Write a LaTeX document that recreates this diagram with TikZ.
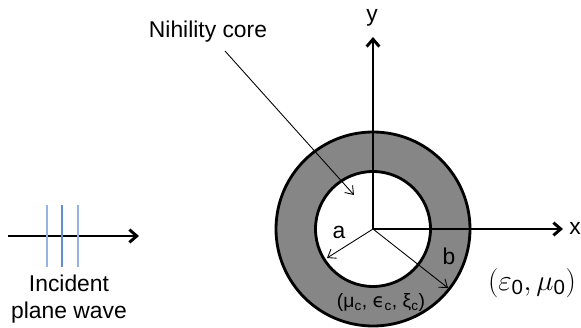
\documentclass[tikz,border=0pt]{standalone}
\usepackage{amsmath}
\usepackage{fontspec}
\setmainfont{Liberation Sans}
\newfontfamily\grkfont{DejaVu Sans}
\usetikzlibrary{arrows.meta,positioning}
\definecolor{wavelight}{RGB}{150,180,225}
\definecolor{wavedark}{RGB}{95,140,205}

\begin{document}
\begin{tikzpicture}[x=0.03cm, y=0.03cm,
  lbl/.style={font=\fontsize{19.5}{23}\selectfont, inner sep=0},
  axis/.style={-{Straight Barb[length=2.2mm, width=3.8mm]}, line width=2.5pt},
  thinarr/.style={-{Straight Barb[length=2.2mm, width=3.2mm]}, line width=0.75pt},
  wave/.style={line width=1.1pt}
]
\useasboundingbox (0,0) rectangle (581,327);
% shell and core
\coordinate (O) at (373,98);
\fill[gray!95] (O) circle (97);
\draw[line width=2.4pt] (O) circle (97);
\draw[line width=2.4pt, fill=white] (O) circle (57.5);
% axes
\coordinate (ytip) at (373,290);
\coordinate (xtip) at (563,98);
\draw[axis] (O) -- (ytip);
\draw[axis] (O) -- (xtip);
\node[lbl] (ylbl) at (372,309) {y};
\node[lbl] (xlbl) at (575,99) {x};
% radii
\coordinate (aend) at (327,69);
\coordinate (bend) at (448,39);
\draw[thinarr] (O) -- (aend);
\draw[thinarr] (O) -- (bend);
\node[lbl] (albl) at (339,95) {a};
\node[lbl] (blbl) at (449,71) {b};
% labels
\node[lbl] (nih) at (208,295) {Nihility core};
\coordinate (nihfoot) at (225,276);
\coordinate (nihtip) at (354,132);
\draw[thinarr] (nihfoot) -- (nihtip);
\node[lbl, font=\fontsize{25}{28}\selectfont] (out) at (532,44) {$(\varepsilon_{\text{0}},\mu_{\text{0}})$};
\node[lbl, font=\fontsize{16.5}{19}\selectfont] (mat) at (381,25) {(μ\textsubscript{c}, {\grkfont ϵ}\textsubscript{c}, ξ\textsubscript{c})};
% incident wave
\coordinate (win) at (8,91);
\coordinate (wout) at (139,91);
\draw[axis] (win) -- (wout);
\foreach \px/\col in {47/wavelight, 62/wavedark, 78/wavelight}
  \draw[wave, \col] (\px,122) -- (\px,60);
\node[lbl, align=center] (inc) at (69,28) {Incident\\plane wave};
\end{tikzpicture}
\end{document}
